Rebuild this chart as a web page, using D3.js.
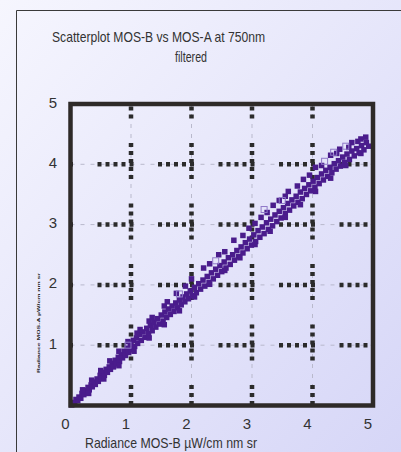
<!DOCTYPE html>
<html><head><meta charset="utf-8">
<script src="https://cdn.jsdelivr.net/npm/d3@7/dist/d3.min.js"></script>
<style>html,body{margin:0;padding:0;overflow:hidden;}svg{display:block;}</style>
</head><body>
<script>
const titleLine1 = "Scatterplot MOS-B vs MOS-A at 750nm";
const titleLine2 = "filtered";
const xTitle = "Radiance MOS-B µW/cm nm sr";
const yTitle = "Radiance MOS-A µW/cm nm sr";
const xTicks = [0,1,2,3,4,5];
const yTicks = [1,2,3,4,5];
const gridValues = [1,2,3,4];

// main cloud (MOS-B, MOS-A)
const mosB = [0.02,0.04,0.07,0.09,0.12,0.14,0.17,0.19,0.22,0.24,0.27,0.29,0.31,0.34,0.36,0.39,0.41,0.44,0.46,0.49,0.51,0.54,0.56,0.59,0.61,0.64,0.66,0.69,0.71,0.74,0.76,0.79,0.81,0.84,0.86,0.89,0.91,0.94,0.96,0.99,1.01,1.04,1.06,1.09,1.11,1.14,1.17,1.20,1.23,1.26,1.29,1.32,1.35,1.38,1.41,1.44,1.47,1.50,1.53,1.56,1.59,1.62,1.65,1.68,1.71,1.74,1.77,1.80,1.83,1.86,1.89,1.92,1.95,1.98,2.01,2.05,2.08,2.12,2.15,2.19,2.22,2.26,2.29,2.33,2.36,2.40,2.43,2.47,2.50,2.54,2.57,2.61,2.64,2.68,2.71,2.75,2.78,2.82,2.85,2.89,2.92,2.96,2.99,3.03,3.06,3.10,3.13,3.17,3.20,3.24,3.27,3.31,3.34,3.38,3.41,3.45,3.48,3.52,3.55,3.59,3.62,3.66,3.69,3.73,3.76,3.80,3.83,3.87,3.90,3.94,3.97,4.01,4.04,4.08,4.11,4.15,4.18,4.22,4.25,4.29,4.32,4.36,4.39,4.43,4.46,4.50,4.53,4.57,4.61,4.65,4.69,4.73,4.77,4.81,4.85,4.89,4.93];
const mosA = [0.01,0.02,0.05,0.10,0.08,0.14,0.12,0.20,0.18,0.25,0.22,0.30,0.26,0.34,0.31,0.39,0.35,0.44,0.40,0.50,0.45,0.55,0.50,0.60,0.55,0.64,0.60,0.70,0.64,0.75,0.69,0.80,0.73,0.84,0.79,0.90,0.83,0.95,0.88,1.02,0.93,1.08,0.98,1.12,1.03,1.18,1.08,1.22,1.13,1.28,1.19,1.33,1.24,1.38,1.30,1.44,1.35,1.50,1.40,1.55,1.46,1.60,1.51,1.65,1.56,1.70,1.62,1.75,1.67,1.80,1.72,1.85,1.77,1.90,1.82,1.96,1.87,2.02,1.93,2.08,1.98,2.14,2.04,2.20,2.10,2.26,2.16,2.32,2.22,2.38,2.28,2.45,2.34,2.50,2.41,2.57,2.47,2.63,2.53,2.70,2.60,2.76,2.66,2.83,2.72,2.90,2.79,2.96,2.85,3.03,2.92,3.09,2.98,3.16,3.05,3.22,3.11,3.28,3.18,3.35,3.24,3.41,3.31,3.47,3.37,3.54,3.43,3.60,3.50,3.66,3.56,3.72,3.62,3.78,3.68,3.84,3.74,3.90,3.80,3.95,3.86,4.01,3.92,4.06,3.97,4.12,4.03,4.17,4.08,4.22,4.14,4.26,4.19,4.31,4.24,4.36,4.30];
// upper branch
const upperB = [0.20,0.35,0.50,0.65,0.80,0.95,1.10,1.15,1.30,1.35,1.55,1.60,1.75,1.90,2.00,2.20,2.30,2.45,2.55,2.70,2.85,2.95,3.05,3.15,3.25,3.35,3.45,3.55,3.60,3.75,3.85,3.95,4.05,4.15,4.30,4.40,4.45,4.60,4.65,4.75,4.80,4.88];
const upperA = [0.26,0.42,0.58,0.74,0.90,1.06,1.20,1.26,1.40,1.46,1.65,1.72,1.86,1.98,2.10,2.28,2.35,2.50,2.55,2.74,2.82,2.94,3.02,3.12,3.20,3.32,3.40,3.47,3.55,3.64,3.75,3.82,3.95,3.98,4.15,4.18,4.25,4.28,4.36,4.38,4.42,4.45];
// lower edge
const lowerB = [0.30,0.55,0.80,1.05,1.30,1.55,1.80,2.05,2.30,2.55,2.80,3.05,3.30,3.55,3.80,4.05,4.30,4.55,4.80];
const lowerA = [0.20,0.44,0.66,0.90,1.12,1.34,1.57,1.80,2.01,2.24,2.45,2.67,2.89,3.12,3.33,3.55,3.77,3.98,4.18];
// light hollow markers
const hollowB = [0.95,1.80,2.40,3.20,3.50,4.20,4.35,4.55];
const hollowA = [1.00,1.85,2.40,3.25,3.40,4.05,4.20,4.30];

const W = 401, H = 452;
const svg = d3.select("body").append("svg").attr("width", W).attr("height", H)
  .style("font-family", "'Liberation Sans', Arial, sans-serif");

const defs = svg.append("defs");
const g1 = defs.append("linearGradient").attr("id","bg").attr("x1","0").attr("y1","0").attr("x2","1").attr("y2","1");
g1.append("stop").attr("offset","0").attr("stop-color","#f6f6fe");
g1.append("stop").attr("offset","1").attr("stop-color","#d6d6f7");
svg.append("rect").attr("width",W).attr("height",H).attr("fill","url(#bg)");

// outer frame
svg.append("path").attr("d","M16.5,452 V10.5 H401").attr("fill","none").attr("stroke","#3a3a3a").attr("stroke-width",1);

const x = d3.scaleLinear().domain([0,5]).range([70.5,373]);
const y = d3.scaleLinear().domain([0,5]).range([405.5,104]);

// gray under-grid
const gridG = svg.append("g");
gridValues.forEach(v => {
  gridG.append("line").attr("x1",x(v)).attr("x2",x(v)).attr("y1",y(5)).attr("y2",y(0))
    .attr("stroke","#b9b9cc").attr("stroke-width",1).attr("stroke-dasharray","4,6");
  gridG.append("line").attr("y1",y(v)).attr("y2",y(v)).attr("x1",x(0)).attr("x2",x(5))
    .attr("stroke","#b9b9cc").attr("stroke-width",1).attr("stroke-dasharray","4,6");
});
const dotPattern = "4,4,4,4,4,4,4,4,4,24.5";
gridValues.forEach(v => {
  gridG.append("line").attr("x1",x(v)).attr("x2",x(v)).attr("y1",y(5)).attr("y2",y(0))
    .attr("stroke","#2b2b2b").attr("stroke-width",4.5).attr("stroke-dasharray",dotPattern).attr("stroke-dashoffset",-39);
  gridG.append("line").attr("y1",y(v)).attr("y2",y(v)).attr("x1",x(0)).attr("x2",x(5))
    .attr("stroke","#2b2b2b").attr("stroke-width",4.5).attr("stroke-dasharray",dotPattern).attr("stroke-dashoffset",-27);
});

// points
const ms = 5.5;
const ptsG = svg.append("g");
const solid = d3.zip(mosB, mosA).concat(d3.zip(upperB, upperA), d3.zip(lowerB, lowerA));
ptsG.selectAll("rect.m").data(solid).join("rect").attr("class","m")
  .attr("x", d => x(d[0]) - ms/2).attr("y", d => y(d[1]) - ms/2)
  .attr("width", ms).attr("height", ms).attr("fill", "#4a1c8c");
ptsG.selectAll("rect.h").data(d3.zip(hollowB, hollowA)).join("rect").attr("class","h")
  .attr("x", d => x(d[0]) - 3).attr("y", d => y(d[1]) - 3)
  .attr("width", 6).attr("height", 6).attr("fill", "none").attr("stroke", "#8f78c8").attr("stroke-width", 1);

// plot border
svg.append("rect").attr("x", x(0)).attr("y", y(5)).attr("width", x(5)-x(0)).attr("height", y(0)-y(5))
  .attr("fill","none").attr("stroke","#2e2a28").attr("stroke-width",4.5);

// tick labels
svg.append("g").selectAll("text").data(xTicks).join("text")
  .attr("x", d => x(d) - 5).attr("y", 429).attr("text-anchor","middle")
  .attr("font-size", 15).attr("fill","#333").text(d => d);
svg.append("g").selectAll("text").data(yTicks).join("text")
  .attr("x", 57).attr("y", d => y(d) + 3.5).attr("text-anchor","end")
  .attr("font-size", 15).attr("fill","#333").text(d => d);

// titles
svg.append("text").attr("x",52).attr("y",42).attr("font-size",15).attr("fill","#333")
  .attr("textLength",213).attr("lengthAdjust","spacingAndGlyphs").text(titleLine1);
svg.append("text").attr("x",175).attr("y",61.5).attr("font-size",15).attr("fill","#333")
  .attr("textLength",32).attr("lengthAdjust","spacingAndGlyphs").text(titleLine2);
svg.append("text").attr("x",85).attr("y",448).attr("font-size",15).attr("fill","#333")
  .attr("textLength",172).attr("lengthAdjust","spacingAndGlyphs").text(xTitle);
svg.append("text").attr("transform","translate(39.5,323) rotate(-90) scale(1,0.22)")
  .attr("text-anchor","middle").attr("font-size",16).attr("font-weight","bold").attr("fill","#222")
  .attr("textLength",100).attr("lengthAdjust","spacingAndGlyphs").text(yTitle);
</script>
</body></html>
